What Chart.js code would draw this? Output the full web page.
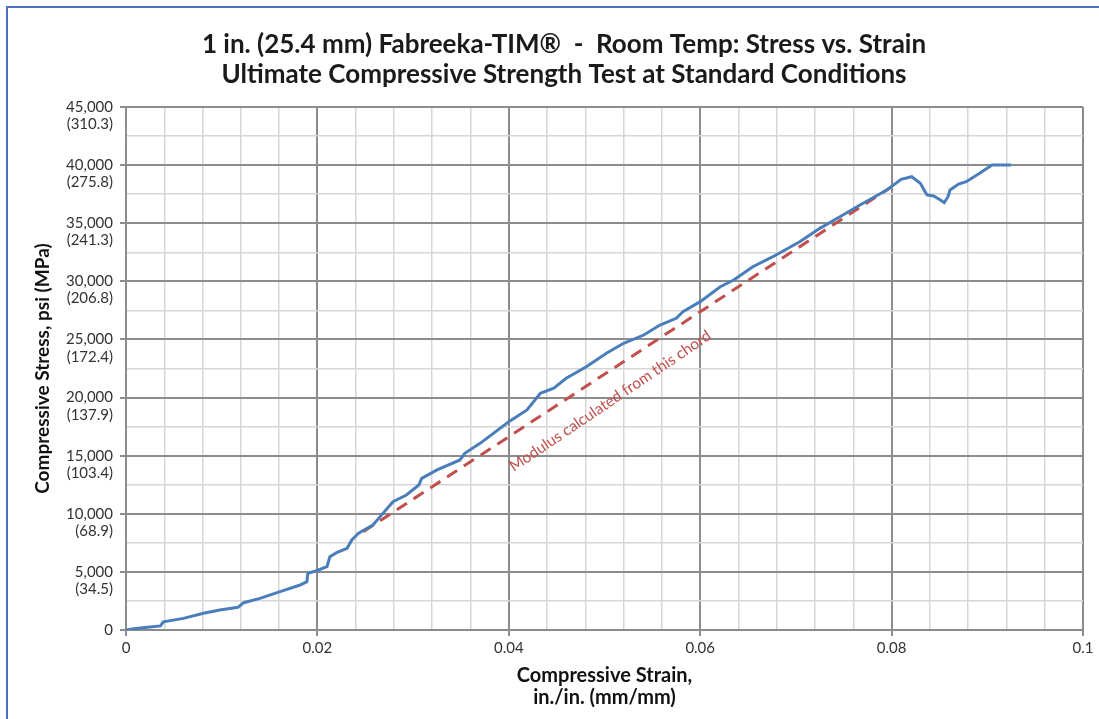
<!DOCTYPE html>
<html>
<head>
<meta charset="utf-8">
<script src="https://cdn.jsdelivr.net/npm/chart.js"></script>
<style>
  html, body { margin: 0; padding: 0; background: #fff; overflow: hidden; }
  #wrap { position: relative; width: 1099px; height: 719px; }
</style>
</head>
<body>
<div id="wrap"><canvas id="stressChart"></canvas></div>
<script>
var titleLines = [
  "1 in. (25.4 mm) Fabreeka-TIM\u00AE  -  Room Temp: Stress vs. Strain",
  "Ultimate Compressive Strength Test at Standard Conditions"
];

// test curve
var strainData = [0, 0.001, 0.0025, 0.0036, 0.0039, 0.006, 0.0081, 0.0098, 0.0117, 0.0123,
  0.014, 0.0161, 0.0182, 0.0189, 0.019, 0.0199, 0.021, 0.0213, 0.022, 0.0231,
  0.0236, 0.0243, 0.0258, 0.0266, 0.0279, 0.0293, 0.0306, 0.0309, 0.0325, 0.0349,
  0.0354, 0.037, 0.04, 0.0419, 0.0433, 0.0447, 0.046, 0.0481, 0.0502, 0.052,
  0.0541, 0.0558, 0.0575, 0.0582, 0.06, 0.0621, 0.0635, 0.0655, 0.0676, 0.0704,
  0.0725, 0.0746, 0.0767, 0.0795, 0.081, 0.0821, 0.083, 0.0835, 0.0837, 0.0844,
  0.0851, 0.0855, 0.0859, 0.0861, 0.087, 0.0878, 0.0892, 0.0905, 0.0925];
var stressData = [0, 120, 250, 350, 700, 1000, 1435, 1720, 1950, 2350,
  2725, 3300, 3870, 4160, 4875, 5100, 5450, 6300, 6650, 7030,
  7740, 8320, 9030, 9800, 11040, 11615, 12475, 13050, 13770, 14630,
  15200, 16060, 17920, 18930, 20370, 20800, 21660, 22650, 23810, 24670,
  25380, 26240, 26820, 27390, 28250, 29540, 30110, 31260, 32120, 33410,
  34560, 35560, 36570, 37860, 38780, 39000, 38430, 37710, 37430, 37340,
  37000, 36770, 37280, 37860, 38370, 38570, 39290, 40010, 40010];

// chord used for the modulus
var chordStrain = [0.0248, 0.0800];
var chordStress = [8460, 38140];
var chordLabel = "Modulus calculated from this chord";
var chordLabelAt = [0.0506, 19700];

var xTickLabels = ["0", "0.02", "0.04", "0.06", "0.08", "0.1"];
var yTickPsi = ["0", "5,000", "10,000", "15,000", "20,000", "25,000", "30,000", "35,000", "40,000", "45,000"];
var yTickMpa = ["", "(34.5)", "(68.9)", "(103.4)", "(137.9)", "(172.4)", "(206.8)", "(241.3)", "(275.8)", "(310.3)"];

var xTitle = ["Compressive Strain,", "in./in. (mm/mm)"];
var yTitle = "Compressive Stress, psi (MPa)";

var fontFam = "Lato, 'Open Sans', sans-serif";
var majorGrid = "#8c8c8c";
var minorGrid = "#d6d6d6";

function toPoints(xs, ys) {
  var pts = [];
  for (let i = 0; i < xs.length; i++) pts.push({ x: xs[i], y: ys[i] });
  return pts;
}

function isMajorX(v) { return Math.round(v * 1000) % 20 === 0; }
function isMajorY(v) { return Math.round(v) % 5000 === 0; }

var framePlugin = {
  id: "frame",
  beforeDraw: function(chart) {
    var c = chart.ctx;
    c.save();
    c.fillStyle = "#fff";
    c.fillRect(0, 0, chart.width, chart.height);
    c.strokeStyle = "#4a72be";
    c.lineWidth = 2;
    c.strokeRect(7, 7, 1200, 800);
    c.restore();
  },
  afterDraw: function(chart) {
    var c = chart.ctx;
    c.save();
    c.fillStyle = "#1a1a1a";
    c.font = "bold 26px " + fontFam;
    c.textAlign = "center";
    c.textBaseline = "middle";
    c.fillText(titleLines[0], 564, 45);
    c.fillText(titleLines[1], 564, 75);

    // label along the chord
    var xs = chart.scales.x, ys = chart.scales.y;
    var x0 = xs.getPixelForValue(chordStrain[0]), y0 = ys.getPixelForValue(chordStress[0]);
    var x1 = xs.getPixelForValue(chordStrain[1]), y1 = ys.getPixelForValue(chordStress[1]);
    var ang = Math.atan2(y1 - y0, x1 - x0) - 0.015;
    c.translate(xs.getPixelForValue(chordLabelAt[0]), ys.getPixelForValue(chordLabelAt[1]));
    c.rotate(ang);
    c.fillStyle = "#c0504d";
    c.font = "15.5px " + fontFam;
    c.fillText(chordLabel, 0, 0);
    c.restore();
  }
};

const dataStress = {
  datasets: [
    {
      label: "Chord",
      data: toPoints(chordStrain, chordStress),
      showLine: true,
      borderColor: "#c0504d",
      borderWidth: 3,
      borderDash: [12, 8],
      pointRadius: 0,
      order: 2
    },
    {
      label: "Stress vs. Strain",
      data: toPoints(strainData, stressData),
      showLine: true,
      borderColor: "#4a7ebb",
      borderWidth: 3,
      pointRadius: 0,
      tension: 0,
      order: 1
    }
  ]
};

const configStress = {
  type: "scatter",
  data: dataStress,
  plugins: [framePlugin],
  options: {
    responsive: false,
    animation: false,
    layout: { padding: { left: 30, right: 16, top: 107, bottom: 5 } },
    plugins: {
      legend: { display: false },
      tooltip: { enabled: false },
      title: { display: false }
    },
    scales: {
      x: {
        type: "linear",
        min: 0,
        max: 0.1,
        afterFit: function(s) { s.height = 84; },
        border: { color: majorGrid, width: 2 },
        grid: {
          color: function(ctx) { return ctx.tick && isMajorX(ctx.tick.value) ? majorGrid : minorGrid; },
          lineWidth: function(ctx) { return ctx.tick && isMajorX(ctx.tick.value) ? 2 : 1.5; },
          tickColor: function(ctx) { return ctx.tick && isMajorX(ctx.tick.value) ? majorGrid : "rgba(0,0,0,0)"; },
          tickLength: 6
        },
        ticks: {
          stepSize: 0.004,
          autoSkip: false,
          maxRotation: 0,
          padding: 3,
          color: "#333",
          font: { family: fontFam, size: 15 },
          callback: function(v) {
            if (!isMajorX(v)) return "";
            return xTickLabels[Math.round(v * 1000) / 20];
          }
        },
        title: {
          display: true,
          text: xTitle,
          color: "#111",
          font: { family: fontFam, size: 20, weight: "bold", lineHeight: 1.1 },
          padding: { top: 0, bottom: 5 }
        }
      },
      y: {
        type: "linear",
        min: 0,
        max: 45000,
        afterFit: function(s) { s.width = 96; },
        border: { color: majorGrid, width: 2 },
        grid: {
          color: function(ctx) { return ctx.tick && isMajorY(ctx.tick.value) ? majorGrid : minorGrid; },
          lineWidth: function(ctx) { return ctx.tick && isMajorY(ctx.tick.value) ? 2 : 1.5; },
          tickColor: function(ctx) { return ctx.tick && isMajorY(ctx.tick.value) ? majorGrid : "rgba(0,0,0,0)"; },
          tickLength: 6
        },
        ticks: {
          stepSize: 2500,
          autoSkip: false,
          padding: 7,
          color: "#333",
          font: { family: fontFam, size: 15, lineHeight: 1.15 },
          callback: function(v) {
            if (!isMajorY(v)) return "";
            var i = Math.round(v / 5000);
            if (i === 0) return yTickPsi[0];
            return [" ", yTickPsi[i], yTickMpa[i]];
          }
        },
        title: {
          display: true,
          text: yTitle,
          color: "#111",
          font: { family: fontFam, size: 19, weight: "bold", lineHeight: 1.2 },
          padding: { top: 1, bottom: 0 }
        }
      }
    }
  }
};

var canvas = document.getElementById("stressChart");
canvas.width = 1099;
canvas.height = 719;
var stressChart = new Chart(canvas, configStress);
</script>
</body>
</html>
